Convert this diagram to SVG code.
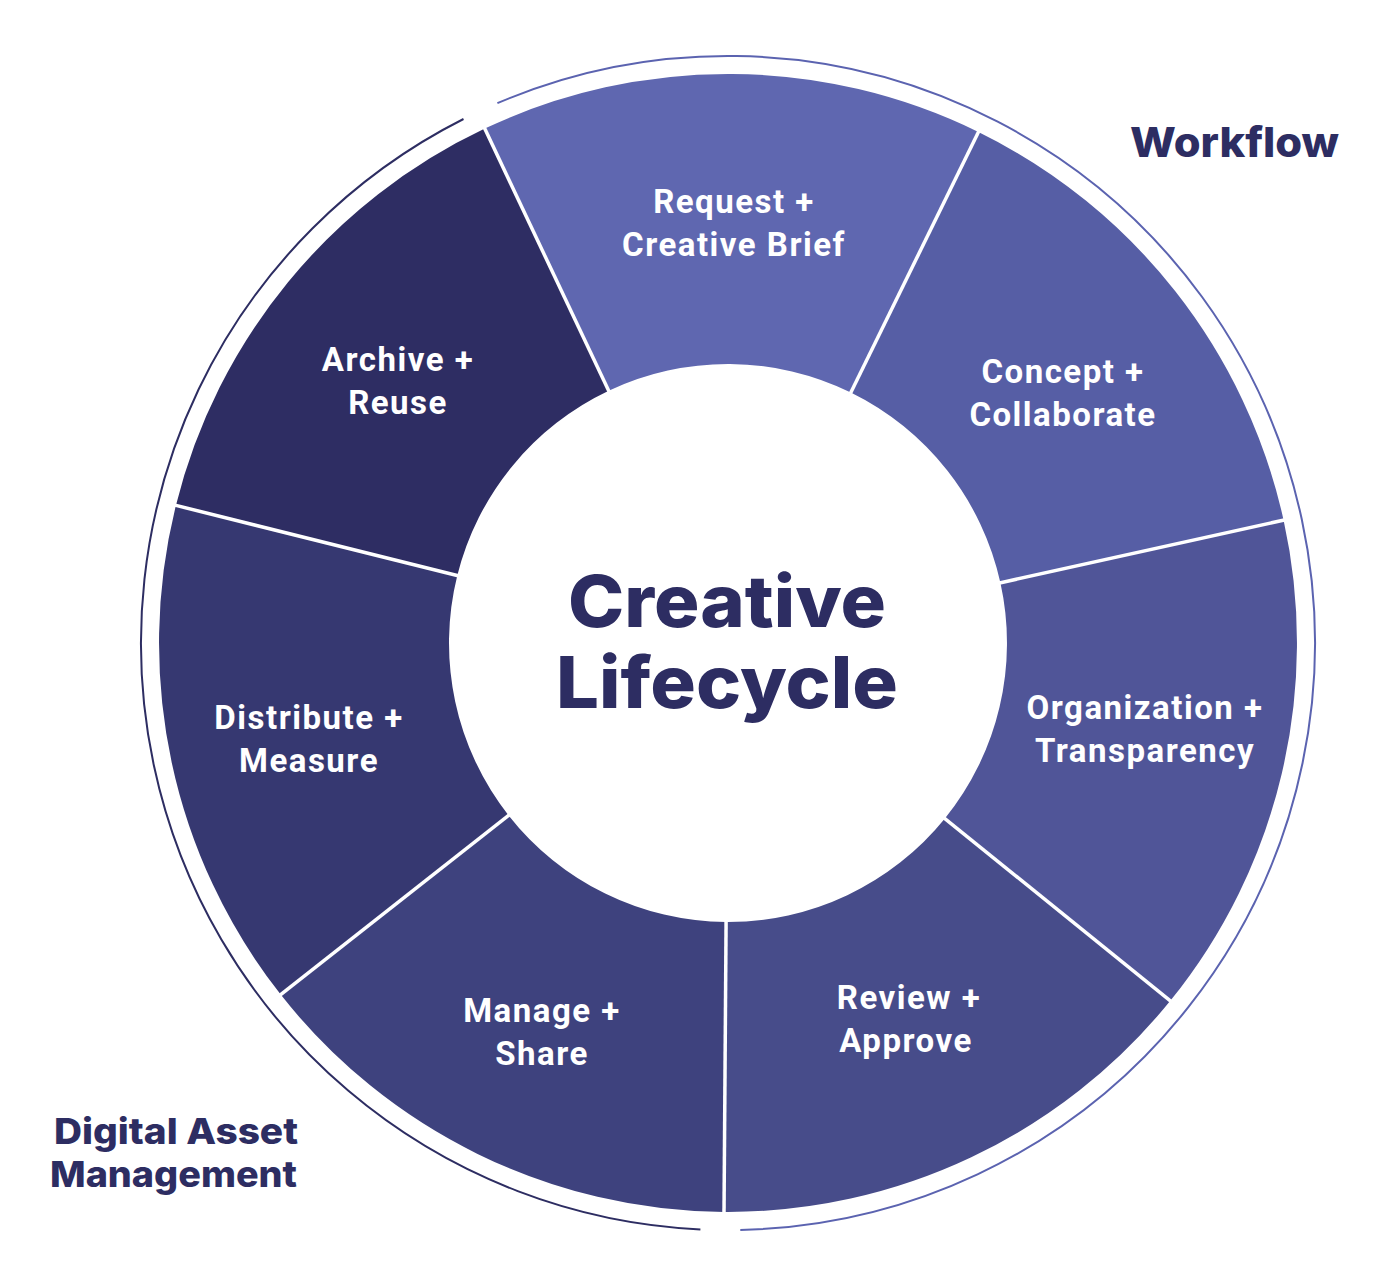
<svg xmlns="http://www.w3.org/2000/svg" width="1388" height="1288" viewBox="0 0 1388 1288">
<style>
.lbl{font-family:Roboto,"Liberation Sans",sans-serif;font-weight:700;font-size:33px;fill:#ffffff;text-anchor:middle;letter-spacing:1.5px}
.ctr{font-family:Inter,Lato,"Liberation Sans",sans-serif;font-weight:800;font-size:72px;fill:#2d2d62;font-variant-ligatures:none}
.hdr{font-family:Inter,Lato,"Liberation Sans",sans-serif;font-weight:800;fill:#2d2d62;font-variant-ligatures:none}
.sep{stroke:#ffffff;stroke-width:3.5;fill:none}
.ring{fill:none;stroke-width:2}
</style>
<rect width="1388" height="1288" fill="#ffffff"/>
<g id="ring-workflow"><path class="ring" stroke="#5b63b0" d="M497.4,103.2 A587,587 0 1 1 740.3,1229.9"/></g>
<g id="ring-dam"><path class="ring" stroke="#2d2d62" d="M700.4,1229.4 A587,587 0 0 1 463.5,119.0"/></g>
<g id="seg-request"><path fill="#5f67b0" d="M484.8,128.6 A569,569 0 0 1 978.4,132.0 L850.8,392.5 A279,279 0 0 0 608.7,390.8 Z"/>
<text class="lbl" x="734" y="213">Request +</text><text class="lbl" x="734" y="256">Creative Brief</text></g>
<g id="seg-concept"><path fill="#565ea5" d="M978.4,132.0 A569,569 0 0 1 1283.6,520.2 L1000.4,582.8 A279,279 0 0 0 850.8,392.5 Z"/>
<text class="lbl" x="1063" y="383">Concept +</text><text class="lbl" x="1063" y="426">Collaborate</text></g>
<g id="seg-organization"><path fill="#505598" d="M1283.6,520.2 A569,569 0 0 1 1170.3,1000.8 L944.9,818.5 A279,279 0 0 0 1000.4,582.8 Z"/>
<text class="lbl" x="1145" y="719">Organization +</text><text class="lbl" x="1145" y="762">Transparency</text></g>
<g id="seg-review"><path fill="#474c8a" d="M1170.3,1000.8 A569,569 0 0 1 724.0,1212 L726.1,922 A279,279 0 0 0 944.9,818.5 Z"/>
<text class="lbl" x="909" y="1009">Review +</text><text class="lbl" x="906" y="1052">Approve</text></g>
<g id="seg-manage"><path fill="#3e427e" d="M724.0,1212 A569,569 0 0 1 280.7,994.6 L508.6,815.4 A279,279 0 0 0 726.1,922 Z"/>
<text class="lbl" x="542" y="1022">Manage +</text><text class="lbl" x="542" y="1065">Share</text></g>
<g id="seg-distribute"><path fill="#363871" d="M280.7,994.6 A569,569 0 0 1 175.9,505.4 L457.3,575.5 A279,279 0 0 0 508.6,815.4 Z"/>
<text class="lbl" x="309" y="729">Distribute +</text><text class="lbl" x="309" y="772">Measure</text></g>
<g id="seg-archive"><path fill="#2e2d63" d="M175.9,505.4 A569,569 0 0 1 484.8,128.6 L608.7,390.8 A279,279 0 0 0 457.3,575.5 Z"/>
<text class="lbl" x="398" y="371">Archive +</text><text class="lbl" x="398" y="414">Reuse</text></g>
<g id="connectors">
<line class="sep" x1="609.5" y1="392.6" x2="483.9" y2="126.8"/>
<line class="sep" x1="850" y1="394.3" x2="979.3" y2="130.2"/>
<line class="sep" x1="998.5" y1="583.2" x2="1285.5" y2="519.7"/>
<line class="sep" x1="943.3" y1="817.3" x2="1171.9" y2="1002.1"/>
<line class="sep" x1="726.1" y1="920" x2="724" y2="1214"/>
<line class="sep" x1="510.2" y1="814.2" x2="279.1" y2="995.8"/>
<line class="sep" x1="459.2" y1="576" x2="174" y2="504.9"/>
</g>
<g id="center">
<text class="ctr" x="568" y="627" textLength="318" lengthAdjust="spacingAndGlyphs">Creative</text>
<text class="ctr" x="556" y="708" textLength="342" lengthAdjust="spacingAndGlyphs">Lifecycle</text>
</g>
<g id="label-workflow"><text class="hdr" x="1130" y="157" font-size="41" textLength="209" lengthAdjust="spacingAndGlyphs">Workflow</text></g>
<g id="label-dam"><text class="hdr" x="54" y="1144" font-size="36" textLength="244" lengthAdjust="spacingAndGlyphs">Digital Asset</text>
<text class="hdr" x="50" y="1187" font-size="36" textLength="247" lengthAdjust="spacingAndGlyphs">Management</text></g>
</svg>
